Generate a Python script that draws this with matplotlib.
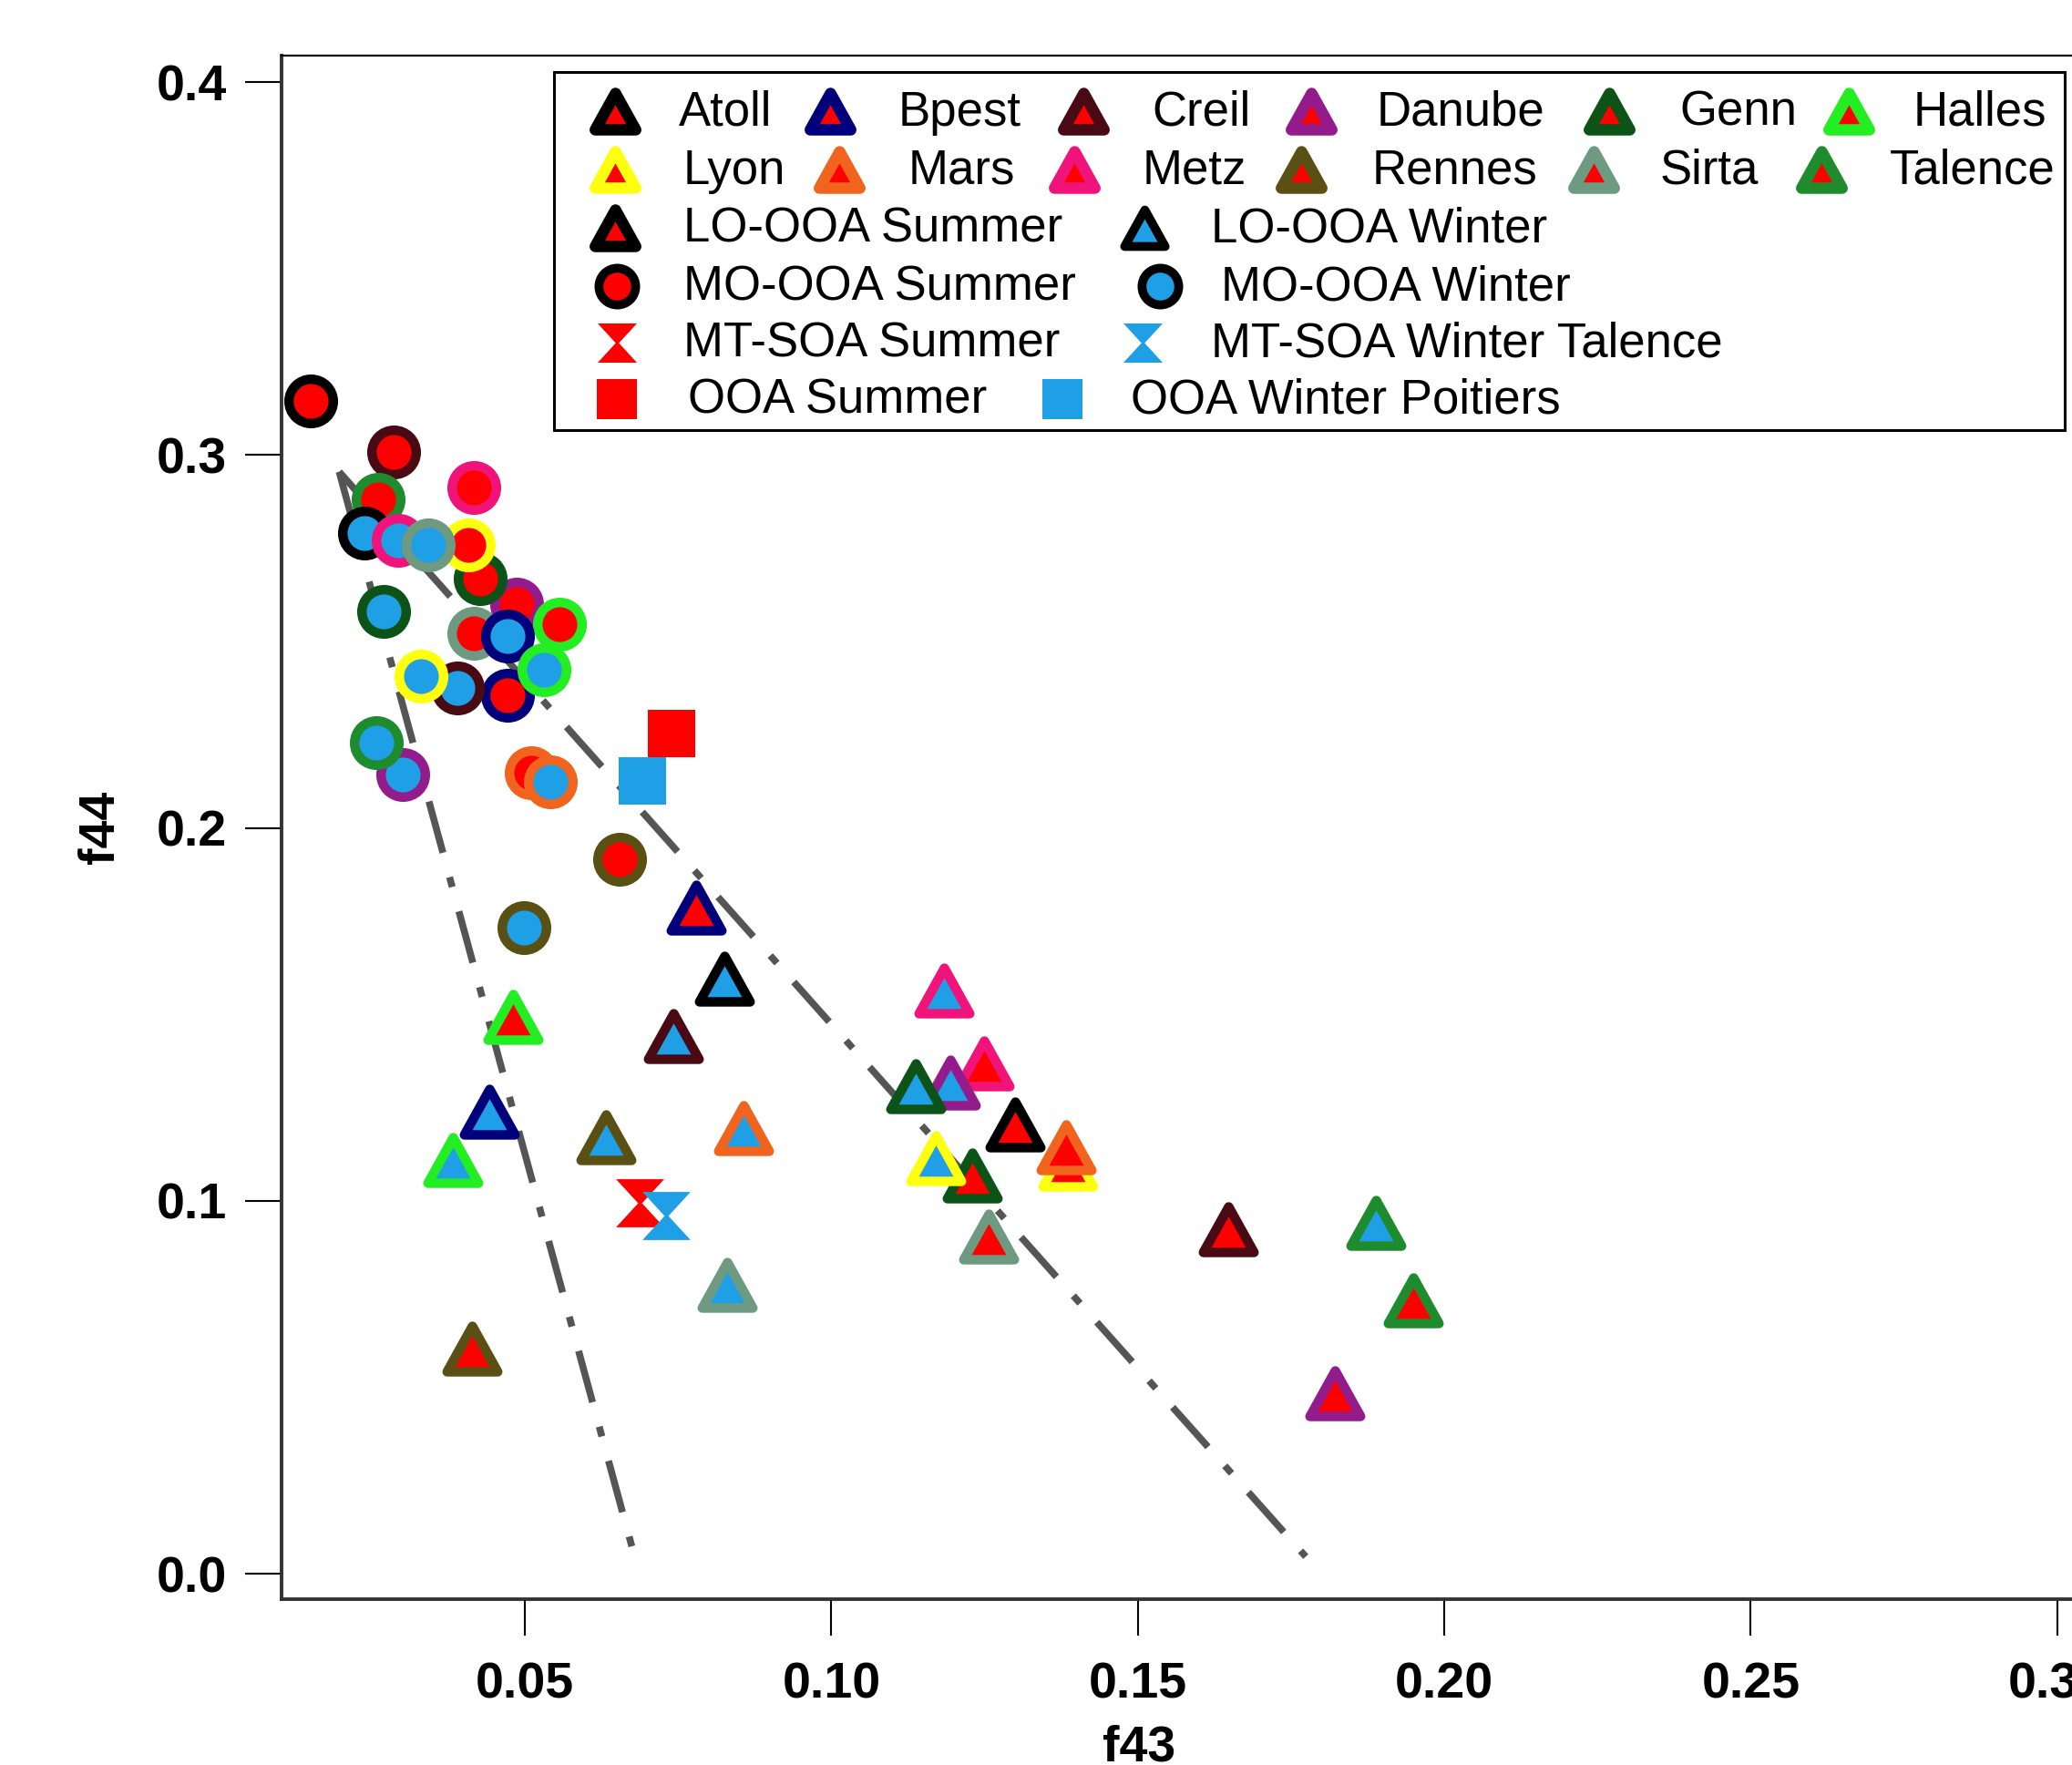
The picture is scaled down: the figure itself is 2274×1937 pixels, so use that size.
import matplotlib
matplotlib.use("Agg")
import matplotlib.pyplot as plt
from matplotlib.markers import MarkerStyle
from matplotlib.path import Path
from matplotlib.patches import Rectangle
from matplotlib.ticker import FormatStrFormatter

plt.rcParams['font.family'] = ['Liberation Sans', 'DejaVu Sans']
plt.rcParams['lines.scale_dashes'] = False

# sites, in legend order
sites = ['Atoll', 'Bpest', 'Creil', 'Danube', 'Genn', 'Halles',
         'Lyon', 'Mars', 'Metz', 'Rennes', 'Sirta', 'Talence']
site_colors = ['#000000', '#00007a', '#4a0a14', '#941b8c', '#0b5316', '#22ee22',
               '#ffff10', '#f0641e', '#f0147a', '#5a5014', '#6e9a82', '#1e8c2d']
summer_color = '#ff0000'
winter_color = '#1e9fe6'

# LO-OOA (triangles), one value per site
lo_summer_f43 = [0.1299, 0.0779, 0.1647, 0.1821, 0.1230, 0.0480,
                 0.1386, 0.1383, 0.1249, 0.0413, 0.1256, 0.1949]
lo_summer_f44 = [0.1205, 0.1787, 0.0925, 0.0485, 0.1067, 0.1494,
                 0.1100, 0.1144, 0.1368, 0.0604, 0.0905, 0.0734]
lo_winter_f43 = [0.0825, 0.0442, 0.0742, 0.1194, 0.1137, 0.0382,
                 0.1171, 0.0856, 0.1184, 0.0632, 0.0830, 0.1888]
lo_winter_f44 = [0.1597, 0.1238, 0.1443, 0.1317, 0.1307, 0.1109,
                 0.1115, 0.1194, 0.1564, 0.1170, 0.0775, 0.0942]

# MO-OOA (circles), one value per site
mo_summer_f43 = [0.0151, 0.0472, 0.0286, 0.0486, 0.0427, 0.0557,
                 0.0408, 0.0511, 0.0416, 0.0655, 0.0417, 0.0261]
mo_summer_f44 = [0.3145, 0.2355, 0.3008, 0.2599, 0.2668, 0.2546,
                 0.2760, 0.2147, 0.2913, 0.1915, 0.2522, 0.2880]
mo_winter_f43 = [0.0239, 0.0472, 0.0390, 0.0301, 0.0270, 0.0531,
                 0.0330, 0.0541, 0.0293, 0.0499, 0.0343, 0.0258]
mo_winter_f44 = [0.2790, 0.2514, 0.2375, 0.2143, 0.2581, 0.2424,
                 0.2408, 0.2123, 0.2770, 0.1732, 0.2758, 0.2229]

# MT-SOA and OOA (single points)
mtsoa_summer = (0.0687, 0.0995)
mtsoa_winter_talence = (0.0730, 0.0961)
ooa_summer = (0.0739, 0.2253)
ooa_winter_poitiers = (0.0692, 0.2125)

# triangle guide lines (start shared, two end points)
guide_start = (0.0197, 0.2955)
guide_ends = [(0.0685, 0.0010), (0.1774, 0.0046)]

xticks = [0.05, 0.10, 0.15, 0.20, 0.25, 0.30]
yticks = [0.0, 0.1, 0.2, 0.3, 0.4]

# marker shapes
tri_path = Path([(-1, -0.9), (1, -0.9), (0, 0.9), (-1, -0.9)],
                [Path.MOVETO, Path.LINETO, Path.LINETO, Path.CLOSEPOLY])
TRI = MarkerStyle(tri_path, joinstyle='miter')
hg_path = Path([(-1, 1), (1, 1), (0.08, 0), (1, -1), (-1, -1), (-0.08, 0), (-1, 1)],
               [Path.MOVETO] + [Path.LINETO] * 5 + [Path.CLOSEPOLY])
HOUR = MarkerStyle(hg_path)

W, H, DPI = 2274, 1937, 100
fig = plt.figure(figsize=(W / DPI, H / DPI), dpi=DPI)
ax = fig.add_axes([309 / W, 1 - 1755 / H, 2084 / W, 1694 / H])

# guide lines
for xe, ye in guide_ends:
    ax.plot([guide_start[0], xe], [guide_start[1], ye], color='#555555', lw=5.5,
            dashes=(42, 20, 8, 20), dash_capstyle='butt', zorder=1)

# LO-OOA triangles
for f43, f44, fc in [(lo_summer_f43, lo_summer_f44, summer_color),
                     (lo_winter_f43, lo_winter_f44, winter_color)]:
    for x, y, ec in zip(f43, f44, site_colors):
        ax.plot(x, y, marker=TRI, ms=40, mew=7.5, mfc=fc, mec=ec, ls='none', zorder=3)

# MO-OOA circles
for f43, f44, fc in [(mo_summer_f43, mo_summer_f44, summer_color),
                     (mo_winter_f43, mo_winter_f44, winter_color)]:
    for x, y, ec in zip(f43, f44, site_colors):
        ax.plot(x, y, marker='o', ms=35, mew=7.5, mfc=fc, mec=ec, ls='none', zorder=3)

# MT-SOA and OOA
ax.plot(*mtsoa_summer, marker=HOUR, ms=38, mew=0, color=summer_color, ls='none', zorder=3)
ax.plot(*mtsoa_winter_talence, marker=HOUR, ms=38, mew=0, color=winter_color, ls='none', zorder=3)
ax.plot(*ooa_summer, marker='s', ms=38, mew=0, color=summer_color, ls='none', zorder=3)
ax.plot(*ooa_winter_poitiers, marker='s', ms=38, mew=0, color=winter_color, ls='none', zorder=3)

ax.set_xlim(0.0103, 0.3201)
ax.set_ylim(-0.0068, 0.4071)
ax.set_xticks(xticks)
ax.set_yticks(yticks)
ax.xaxis.set_major_formatter(FormatStrFormatter('%.2f'))
ax.yaxis.set_major_formatter(FormatStrFormatter('%.1f'))
ax.tick_params(direction='out', length=29, width=1.5, labelsize=40, color='black')
ax.tick_params(axis='x', pad=20)
ax.tick_params(axis='y', pad=14)
for lab in ax.get_xticklabels() + ax.get_yticklabels():
    lab.set_fontweight('bold')
for side in ['left', 'bottom']:
    ax.spines[side].set_linewidth(2.8)
    ax.spines[side].set_color('#333333')
ax.spines['top'].set_linewidth(1.6)
ax.spines['right'].set_visible(False)

ax.set_xlabel('f43', fontsize=40, fontweight='bold')
ax.xaxis.set_label_coords(0.4516, -0.081)
ax.set_ylabel('f44', fontsize=40, fontweight='bold')
ax.yaxis.set_label_coords(-0.095, 0.5)
ax.yaxis.label.set_va('center')

# legend drawn in figure pixel space
def fx(px):
    return px / W

def fy(py):
    return 1 - py / H

box = Rectangle((fx(608), fy(472)), fx(2266) - fx(608), fy(79) - fy(472),
                transform=fig.transFigure, facecolor='white', edgecolor='black',
                lw=2.2, zorder=5, clip_on=False)
ax.add_patch(box)

rows_y = [124, 188, 252, 316, 378, 440]
site_marker_x = [675, 911, 1189, 1439, 1766, 2029, 675, 921, 1179, 1428, 1749, 1999]
site_text_x = [745, 986, 1264, 1511, 1843, 2100, 750, 997, 1254, 1506, 1822, 2074]

def legend_mark(px, py, **kw):
    ax.plot([fx(px)], [fy(py)], transform=fig.transFigure, ls='none',
            clip_on=False, zorder=6, **kw)

def legend_text(px, py, s):
    ax.text(fx(px), fy(py), s, transform=fig.transFigure, fontsize=38,
            ha='left', va='center', zorder=6)

for i, (name, col) in enumerate(zip(sites, site_colors)):
    row = rows_y[i // 6]
    legend_mark(site_marker_x[i], row - 2, marker=TRI, ms=32, mew=9, mfc=summer_color, mec=col)
    legend_text(site_text_x[i], row, name)

comp_entries = [
    ('LO-OOA Summer', TRI, summer_color, 'black', 32, 9),
    ('LO-OOA Winter', TRI, winter_color, 'black', 32, 7),
    ('MO-OOA Summer', 'o', summer_color, 'black', 29, 7),
    ('MO-OOA Winter', 'o', winter_color, 'black', 29, 7),
    ('MT-SOA Summer', HOUR, summer_color, summer_color, 31, 0),
    ('MT-SOA Winter Talence', HOUR, winter_color, winter_color, 31, 0),
    ('OOA Summer', 's', summer_color, summer_color, 31, 0),
    ('OOA Winter Poitiers', 's', winter_color, winter_color, 31, 0),
]
comp_marker_x = [675, 1256, 677, 1273, 677, 1254, 677, 1166]
comp_text_x = [750, 1329, 750, 1340, 750, 1329, 755, 1241]
for j, (name, mk, fc, ec, ms, mew) in enumerate(comp_entries):
    row = rows_y[2 + j // 2]
    legend_mark(comp_marker_x[j], row - 2, marker=mk, ms=ms, mew=mew, mfc=fc, mec=ec)
    legend_text(comp_text_x[j], row, name)

fig.savefig('out.png', dpi=DPI)
